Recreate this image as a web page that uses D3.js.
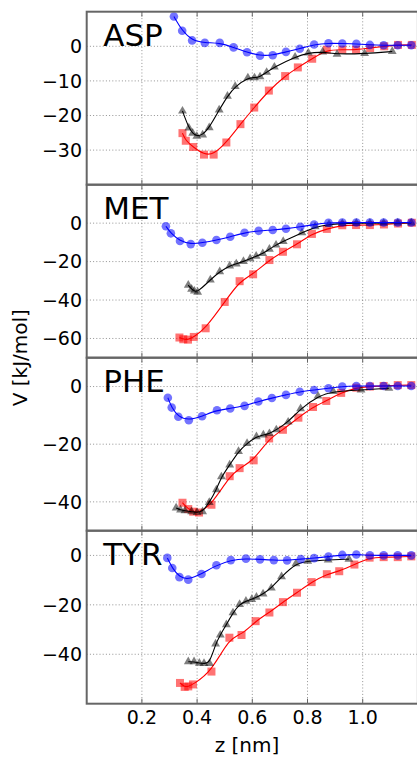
<!DOCTYPE html>
<html><head><meta charset="utf-8">
<script src="https://cdn.jsdelivr.net/npm/d3@7"></script>
<style>body{margin:0;background:#fff}svg{display:block;font-family:"DejaVu Sans",sans-serif}</style>
</head><body><svg id="c" width="417" height="760"></svg>
<script>
// ---- data ----
const panelNames = ["ASP", "MET", "PHE", "TYR"];
const yDomains = [[-40, 10], [-70, 20], [-50, 10], [-60, 10]];
const yTicks = [[0, -10, -20, -30], [0, -20, -40, -60], [0, -20, -40], [0, -20, -40]];
const xTicks = [0.2, 0.4, 0.6, 0.8, 1.0];

const aspBlue = [[0.316,8.6],[0.346,4.5],[0.382,1.7],[0.428,1.0],[0.482,1.0],[0.532,-0.3],[0.581,-1.7],[0.628,-2.7],[0.674,-2.6],[0.722,-1.6],[0.772,-0.7],[0.824,0.5],[0.876,0.9],[0.926,0.8],[0.977,0.7],[1.026,0.4],[1.076,0.3],[1.127,0.3],[1.176,0.3]];
const aspBlack = [[0.347,-18.7],[0.370,-23.6],[0.384,-25.1],[0.399,-26.0],[0.420,-25.6],[0.444,-23.5],[0.480,-18.4],[0.510,-14.4],[0.538,-11.6],[0.584,-9.1],[0.608,-9.1],[0.628,-8.8],[0.652,-7.5],[0.680,-6.0],[0.755,-3.1],[0.803,-1.9],[0.855,-1.6],[0.907,-2.3],[1.007,-2.1],[1.107,-1.5]];
const aspRed = [[0.347,-25.1],[0.359,-27.3],[0.386,-29.1],[0.425,-31.3],[0.460,-31.3],[0.506,-27.8],[0.557,-22.5],[0.607,-17.7],[0.660,-12.8],[0.719,-8.6],[0.765,-6.1],[0.817,-3.6],[0.870,-1.0],[0.926,-1.0],[0.976,-1.0],[1.027,-0.5],[1.078,0],[1.128,0.4],[1.178,0.4]];

const metBlue = [[0.287,-1.6],[0.305,-5.3],[0.338,-9.3],[0.377,-10.9],[0.419,-10.2],[0.470,-8.8],[0.520,-7.1],[0.572,-5.0],[0.623,-4.0],[0.674,-3.6],[0.722,-2.9],[0.774,-1.9],[0.824,-0.7],[0.876,0.2],[0.926,0.3],[0.977,0.3],[1.026,0.3],[1.076,0.3],[1.127,0.3],[1.176,0.3]];
const metBlack = [[0.368,-32.3],[0.380,-34.3],[0.390,-35.3],[0.402,-35.9],[0.448,-29.5],[0.482,-25.2],[0.518,-22.2],[0.542,-21.2],[0.568,-19.9],[0.592,-18.5],[0.614,-17.2],[0.638,-15.8],[0.662,-13.5],[0.686,-11.4],[0.712,-9.5],[0.780,-5.0],[0.828,-1.9],[0.878,-0.7],[0.926,-0.2],[0.977,0],[1.026,0],[1.076,0],[1.127,0.1],[1.176,0.1]];
const metRed = [[0.336,-59.5],[0.350,-60.4],[0.367,-60.6],[0.388,-59.2],[0.431,-54.7],[0.500,-41.0],[0.554,-30.2],[0.603,-26.6],[0.662,-19.2],[0.711,-14.9],[0.762,-11.0],[0.816,-5.6],[0.870,-3.0],[0.926,-1.1],[0.976,-1.0],[1.026,-1.0],[1.077,-0.7],[1.128,-0.2],[1.178,0.2]];

const pheBlue = [[0.294,-3.9],[0.308,-7.3],[0.332,-10.5],[0.370,-11.7],[0.418,-10.3],[0.472,-8.2],[0.520,-7.6],[0.572,-6.7],[0.622,-5.2],[0.671,-4.0],[0.722,-2.9],[0.772,-1.8],[0.824,-1.2],[0.876,-0.6],[0.926,0],[0.977,0.2],[1.026,0.2],[1.076,0.2],[1.127,0.2],[1.176,0.2]];
const pheBlack = [[0.324,-42.1],[0.340,-42.8],[0.356,-43.1],[0.380,-43.4],[0.400,-43.7],[0.420,-43.4],[0.444,-40.2],[0.470,-35.8],[0.488,-31.3],[0.518,-27.2],[0.550,-22.5],[0.581,-19.7],[0.615,-17.4],[0.640,-16.8],[0.662,-16.3],[0.687,-15.0],[0.730,-12.3],[0.775,-7.7],[0.838,-3.3],[0.893,-1.7],[0.994,-1.2],[1.095,-0.6]];
const pheRed = [[0.347,-40.3],[0.368,-42.5],[0.386,-43.4],[0.407,-43.7],[0.452,-41.0],[0.518,-31.1],[0.554,-28.3],[0.605,-25.6],[0.661,-18.0],[0.711,-15.0],[0.767,-10.8],[0.820,-7.1],[0.868,-5.0],[0.922,-2.2],[0.977,-0.4],[1.026,0],[1.076,0.2],[1.127,0.5],[1.176,0.5]];

const tyrBlue = [[0.292,-1.0],[0.310,-5.1],[0.336,-8.8],[0.368,-9.8],[0.416,-7.5],[0.470,-4.0],[0.522,-1.9],[0.577,-1.3],[0.628,-1.6],[0.678,-1.9],[0.726,-2.0],[0.776,-1.5],[0.824,-1.1],[0.876,-0.5],[0.926,0.2],[0.977,0.4],[1.026,0],[1.076,0],[1.127,0],[1.176,0]];
const tyrBlack = [[0.368,-43.0],[0.389,-43.0],[0.408,-43.6],[0.425,-43.7],[0.445,-43.7],[0.467,-35.8],[0.484,-32.2],[0.506,-28.0],[0.530,-23.2],[0.554,-19.8],[0.577,-18.5],[0.598,-17.8],[0.615,-16.9],[0.639,-15.6],[0.669,-13.2],[0.706,-8.6],[0.758,-3.3],[0.801,-2.3],[0.875,-1.8],[0.950,-1.5]];
const tyrRed = [[0.338,-51.6],[0.355,-53.2],[0.368,-53.0],[0.385,-52.2],[0.452,-47.0],[0.517,-33.3],[0.561,-32.2],[0.612,-26.6],[0.662,-23.1],[0.711,-18.9],[0.762,-15.1],[0.815,-10.8],[0.870,-7.6],[0.915,-6.4],[0.970,-3.7],[1.025,-0.9],[1.076,-0.7],[1.127,-0.7],[1.176,-0.4]];

const panelSeries = [
  [aspRed, aspBlack, aspBlue],
  [metRed, metBlack, metBlue],
  [pheRed, pheBlack, pheBlue],
  [tyrRed, tyrBlack, tyrBlue]
];
const seriesColors = ["#ff0000", "#000000", "#0000ff"];
const seriesMarkers = ["square", "triangle", "circle"];

// ---- layout ----
const svg = d3.select("#c");
const left = 86.7, right = 417.9;
const top0 = 11.7, panelH = 173;
const x = d3.scaleLinear().domain([0, 1.2]).range([left, right]);
const spineColor = "#666";

panelNames.forEach((name, i) => {
  const top = top0 + i * panelH, bottom = top + panelH;
  const y = d3.scaleLinear().domain(yDomains[i]).range([bottom, top]);
  const g = svg.append("g");
  const clipId = "clip" + i;
  svg.append("clipPath").attr("id", clipId).append("rect")
    .attr("x", left).attr("y", top).attr("width", right - left).attr("height", panelH);

  // grid
  g.selectAll(".vg").data(xTicks).join("line")
    .attr("x1", d => x(d)).attr("x2", d => x(d)).attr("y1", top).attr("y2", bottom)
    .attr("stroke", "#777").attr("stroke-width", 0.8).attr("stroke-dasharray", "1,2.2");
  g.selectAll(".hg").data(yTicks[i]).join("line")
    .attr("x1", left).attr("x2", right).attr("y1", d => y(d)).attr("y2", d => y(d))
    .attr("stroke", "#777").attr("stroke-width", 0.8).attr("stroke-dasharray", "1,2.2");

  // x ticks inward (top & bottom)
  g.selectAll(".xtb").data(xTicks).join("line")
    .attr("x1", d => x(d)).attr("x2", d => x(d)).attr("y1", bottom).attr("y2", bottom - 5)
    .attr("stroke", spineColor).attr("stroke-width", 1);
  g.selectAll(".xtt").data(xTicks).join("line")
    .attr("x1", d => x(d)).attr("x2", d => x(d)).attr("y1", top).attr("y2", top + 5)
    .attr("stroke", spineColor).attr("stroke-width", 1);

  // y tick labels
  g.selectAll(".yl").data(yTicks[i]).join("text")
    .attr("x", 82).attr("y", d => y(d)).attr("dy", "0.36em")
    .attr("text-anchor", "end").attr("font-size", 19).attr("fill", "#000")
    .text(d => d < 0 ? "\u2212" + Math.abs(d) : String(d));

  // data
  const pg = g.append("g").attr("clip-path", `url(#${clipId})`);
  const line = d3.line().x(d => x(d[0])).y(d => y(d[1])).curve(d3.curveBasis);
  panelSeries[i].forEach((s, k) => {
    const col = seriesColors[k];
    pg.append("path").datum(s).attr("d", line).attr("fill", "none")
      .attr("stroke", col).attr("stroke-width", 1.1);
    const m = seriesMarkers[k];
    if (m === "circle") {
      pg.selectAll(null).data(s).join("circle")
        .attr("cx", d => x(d[0])).attr("cy", d => y(d[1])).attr("r", 4.3)
        .attr("fill", col).attr("fill-opacity", 0.55);
    } else if (m === "square") {
      pg.selectAll(null).data(s).join("rect")
        .attr("x", d => x(d[0]) - 4).attr("y", d => y(d[1]) - 4)
        .attr("width", 8).attr("height", 8)
        .attr("fill", col).attr("fill-opacity", 0.55);
    } else {
      const tri = d3.symbol().type(d3.symbolTriangle).size(34);
      pg.selectAll(null).data(s).join("path")
        .attr("d", tri)
        .attr("transform", d => `translate(${x(d[0])},${y(d[1])})`)
        .attr("fill", col).attr("fill-opacity", 0.5);
    }
  });

  // panel label
  g.append("text").attr("x", left + 16.5).attr("y", top + panelH * 0.2)
    .attr("font-size", 31).attr("fill", "#000").text(name);

  // spines
  g.append("rect").attr("x", left).attr("y", top).attr("width", right - left).attr("height", panelH)
    .attr("fill", "none").attr("stroke", spineColor).attr("stroke-width", 2);
});

// x tick labels on bottom panel
const bottomY = top0 + 4 * panelH;
svg.selectAll(".xl").data(xTicks).join("text")
  .attr("x", d => x(d)).attr("y", bottomY + 20.5)
  .attr("text-anchor", "middle").attr("font-size", 19).attr("fill", "#000")
  .text(d => d.toFixed(1));

svg.append("text").attr("x", 247).attr("y", 752)
  .attr("text-anchor", "middle").attr("font-size", 20).text("z [nm]");
svg.append("text").attr("transform", `translate(27,${top0 + 2 * panelH}) rotate(-90)`)
  .attr("text-anchor", "middle").attr("font-size", 20).text("V [kJ/mol]");
</script></body></html>
